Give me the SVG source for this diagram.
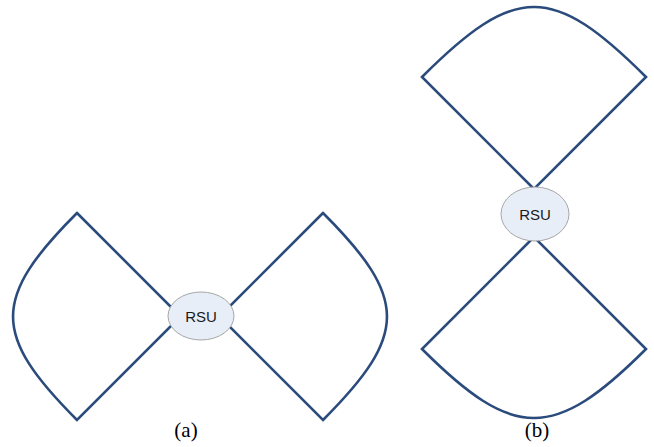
<svg xmlns="http://www.w3.org/2000/svg" width="654" height="447" viewBox="0 0 654 447">
<style>
.fan{fill:none;stroke:#2A4B7C;stroke-width:2.6;stroke-linejoin:miter}
.rsu{fill:#E8EEF8;stroke:#A6A6A6;stroke-width:1}
.lbl{font-family:"Liberation Sans",Arial,sans-serif;font-size:15px;fill:#1a1a1a;text-anchor:middle}
.cap{font-family:"Liberation Serif","Times New Roman",serif;font-size:21px;fill:#000;text-anchor:middle}
</style>
<rect width="654" height="447" fill="#fff"/>
<g id="connectors">
<path id="fan-a-left" class="fan" d="M77,213 L180.5,316.5 L77,420 C-8.3,334.7 -8.3,298.3 77,213 Z"/>
<path id="fan-a-right" class="fan" d="M323,213 L219.5,316.5 L323,420 C408.3,334.7 408.3,298.3 323,213 Z"/>
<path id="fan-b-top" class="fan" d="M534,189 L422,77 C515.3,-16.3 552.7,-16.3 646,77 Z"/>
<path id="fan-b-bottom" class="fan" d="M534,237 L422,349 C514,441 554,441 646,349 Z"/>
</g>
<g id="rsu-a">
<ellipse class="rsu" cx="201" cy="316" rx="33" ry="24"/>
<text class="lbl" x="201" y="321.5">RSU</text>
</g>
<g id="rsu-b">
<ellipse class="rsu" cx="535" cy="214" rx="34" ry="27"/>
<text class="lbl" x="535" y="219.5">RSU</text>
</g>
<g id="caption-a"><text class="cap" x="186" y="437">(a)</text></g>
<g id="caption-b"><text class="cap" x="537" y="437">(b)</text></g>
</svg>
